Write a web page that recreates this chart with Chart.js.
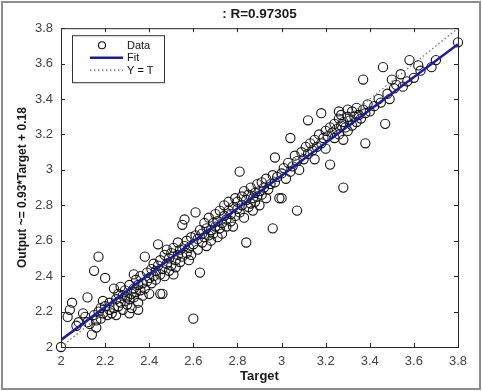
<!DOCTYPE html>
<html>
<head>
<meta charset="utf-8">
<script src="https://cdn.jsdelivr.net/npm/chart.js@4.4.1/dist/chart.umd.min.js"></script>
<style>
  html, body { margin: 0; padding: 0; background: #fff; }
</style>
</head>
<body>
<canvas id="chart_regression" width="482" height="391"></canvas>
<script>
// values (Target vs Output)
const targetValues = [
  2.00, 2.03, 2.04, 2.05, 2.07, 2.10, 2.11, 2.12, 2.14, 2.15,
  2.17, 2.20, 2.12, 2.13, 2.15, 2.16, 2.17, 2.18, 2.18, 2.19,
  2.20, 2.21, 2.16, 2.19, 2.08, 2.22, 2.22, 2.23, 2.24, 2.24,
  2.25, 2.25, 2.26, 2.26, 2.27, 2.28, 2.28, 2.29, 2.29, 2.30,
  2.30, 2.31, 2.31, 2.32, 2.32, 2.33, 2.33, 2.34, 2.34, 2.35,
  2.35, 2.35, 2.36, 2.36, 2.37, 2.37, 2.38, 2.38, 2.39, 2.39,
  2.40, 2.40, 2.33, 2.27, 2.31, 2.41, 2.41, 2.42, 2.42, 2.43,
  2.43, 2.44, 2.44, 2.45, 2.45, 2.45, 2.46, 2.46, 2.47, 2.47,
  2.48, 2.48, 2.49, 2.49, 2.50, 2.50, 2.51, 2.51, 2.52, 2.52,
  2.53, 2.53, 2.54, 2.54, 2.55, 2.55, 2.56, 2.56, 2.57, 2.57,
  2.58, 2.58, 2.59, 2.59, 2.60, 2.60, 2.61, 2.61, 2.62, 2.62,
  2.63, 2.63, 2.64, 2.64, 2.65, 2.65, 2.66, 2.66, 2.67, 2.67,
  2.68, 2.68, 2.69, 2.69, 2.70, 2.70, 2.71, 2.71, 2.72, 2.72,
  2.73, 2.73, 2.74, 2.74, 2.75, 2.75, 2.76, 2.76, 2.77, 2.77,
  2.78, 2.78, 2.79, 2.79, 2.80, 2.80, 2.81, 2.81, 2.82, 2.82,
  2.83, 2.83, 2.84, 2.84, 2.85, 2.85, 2.86, 2.86, 2.87, 2.87,
  2.88, 2.88, 2.89, 2.89, 2.90, 2.90, 2.91, 2.91, 2.92, 2.93,
  2.93, 2.94, 2.95, 2.96, 2.96, 2.97, 2.97, 2.98, 2.99, 3.00,
  3.00, 3.01, 3.02, 3.03, 3.04, 3.04, 3.05, 3.06, 3.07, 3.07,
  3.08, 3.09, 3.10, 3.11, 3.12, 3.12, 3.13, 3.14, 3.15, 3.15,
  3.16, 3.17, 3.18, 3.18, 3.19, 3.20, 3.20, 3.21, 3.22, 3.22,
  3.23, 3.24, 3.24, 3.25, 3.26, 3.26, 3.27, 3.27, 3.28, 3.28,
  3.28, 3.29, 3.30, 3.30, 3.31, 3.32, 3.32, 3.33, 3.34, 3.34,
  3.35, 3.36, 3.37, 3.37, 3.38, 3.38, 3.39, 3.40, 3.30, 3.26,
  3.42, 3.44, 3.45, 3.46, 3.47, 3.48, 3.50, 3.51, 3.52, 3.54,
  3.55, 3.57, 3.58, 3.60, 3.62, 3.63, 3.68, 3.70, 3.80, 3.49
];
const outputValues = [
  2.00, 2.17, 2.21, 2.25, 2.12, 2.19, 2.17, 2.28, 2.07, 2.43,
  2.51, 2.39, 2.14, 2.13, 2.18, 2.15, 2.20, 2.16, 2.22, 2.19,
  2.23, 2.18, 2.11, 2.26, 2.14, 2.21, 2.25, 2.19, 2.33, 2.22,
  2.18, 2.27, 2.23, 2.30, 2.25, 2.21, 2.29, 2.26, 2.32, 2.24,
  2.28, 2.35, 2.27, 2.30, 2.22, 2.33, 2.28, 2.38, 2.31, 2.25,
  2.21, 2.35, 2.32, 2.40, 2.29, 2.36, 2.51, 2.33, 2.42, 2.37,
  2.30, 2.39, 2.41, 2.34, 2.19, 2.44, 2.36, 2.40, 2.47, 2.38,
  2.43, 2.58, 2.46, 2.30, 2.41, 2.49, 2.30, 2.44, 2.52, 2.40,
  2.47, 2.55, 2.43, 2.50, 2.46, 2.53, 2.41, 2.56, 2.49, 2.45,
  2.52, 2.59, 2.48, 2.55, 2.69, 2.51, 2.72, 2.57, 2.53, 2.60,
  2.49, 2.56, 2.62, 2.52, 2.16, 2.58, 2.76, 2.63, 2.55, 2.61,
  2.42, 2.66, 2.59, 2.64, 2.70, 2.62, 2.57, 2.67, 2.63, 2.73,
  2.66, 2.60, 2.70, 2.64, 2.68, 2.75, 2.62, 2.71, 2.67, 2.77,
  2.70, 2.64, 2.74, 2.80, 2.68, 2.72, 2.77, 2.82, 2.71, 2.75,
  2.79, 2.68, 2.84, 2.74, 2.78, 2.82, 2.99, 2.76, 2.85, 2.80,
  2.73, 2.88, 2.59, 2.83, 2.79, 2.86, 2.81, 2.90, 2.84, 2.77,
  2.87, 2.82, 2.92, 2.85, 2.80, 2.88, 2.86, 2.93, 2.90, 2.84,
  2.95, 2.89, 2.92, 2.67, 2.97, 3.07, 2.93, 2.96, 2.84, 2.84,
  2.98, 3.01, 2.95, 3.04, 3.18, 2.99, 3.02, 3.08, 2.77, 3.05,
  3.00, 3.10, 3.06, 3.13, 3.28, 3.09, 3.15, 3.11, 3.06, 3.17,
  3.13, 3.20, 3.32, 3.15, 3.18, 3.12, 3.22, 3.19, 3.03, 3.24,
  3.21, 3.26, 3.18, 3.23, 3.29, 3.20, 3.25, 3.31, 2.90, 3.17,
  3.27, 3.24, 3.30, 3.22, 3.28, 3.33, 3.25, 3.30, 3.27, 3.35,
  3.31, 3.29, 3.51, 3.34, 3.15, 3.32, 3.37, 3.33, 3.34, 3.33,
  3.36, 3.40, 3.38, 3.58, 3.26, 3.43, 3.51, 3.46, 3.48, 3.54,
  3.47, 3.50, 3.62, 3.52, 3.59, 3.56, 3.58, 3.62, 3.72, 3.40
];
// fitted line end points and the Y = T reference line
const fitTargets = [2, 3.8];
const fitOutputs = [2.04, 3.71];
const identityTargets = [2, 3.8];
const identityOutputs = [2, 3.8];
const tickValues = [2, 2.2, 2.4, 2.6, 2.8, 3, 3.2, 3.4, 3.6, 3.8];

const labelFont = "'Liberation Sans', Arial, sans-serif";

function toPoints(xs, ys) {
  return xs.map((x, i) => ({ x: x, y: ys[i] }));
}

// matlab style box: outer figure frame, axes box with inward ticks
const matlabFrame = {
  id: "matlabFrame",
  beforeDraw(chart) {
    const ctx = chart.ctx;
    ctx.save();
    ctx.fillStyle = "#ffffff";
    ctx.fillRect(0, 0, chart.width, chart.height);
    ctx.strokeStyle = "#8c8c8c";
    ctx.lineWidth = 2;
    ctx.strokeRect(2, 2, chart.width - 4, chart.height - 4);
    ctx.restore();
  },
  afterDatasetsDraw(chart) {
    const ctx = chart.ctx;
    const a = chart.chartArea;
    const xs = chart.scales.x;
    const ys = chart.scales.y;
    ctx.save();
    ctx.strokeStyle = "#262626";
    ctx.lineWidth = 1;
    ctx.beginPath();
    xs.ticks.forEach((t) => {
      const px = Math.round(xs.getPixelForValue(t.value)) + 0.5;
      ctx.moveTo(px, a.bottom);
      ctx.lineTo(px, a.bottom - 4);
      ctx.moveTo(px, a.top);
      ctx.lineTo(px, a.top + 4);
    });
    ys.ticks.forEach((t) => {
      const py = Math.round(ys.getPixelForValue(t.value)) + 0.5;
      ctx.moveTo(a.left, py);
      ctx.lineTo(a.left + 4, py);
      ctx.moveTo(a.right, py);
      ctx.lineTo(a.right - 4, py);
    });
    ctx.stroke();
    ctx.strokeRect(a.left + 0.5, a.top + 0.5, a.right - a.left, a.bottom - a.top);
    ctx.restore();
  },
};

// legend box in the upper left corner of the axes
const boxLegend = {
  id: "boxLegend",
  afterDraw(chart) {
    const ctx = chart.ctx;
    const a = chart.chartArea;
    const x0 = a.left + 11;
    const y0 = a.top + 7;
    const w = 92;
    const h = 47;
    ctx.save();
    ctx.fillStyle = "#ffffff";
    ctx.fillRect(x0, y0, w, h);
    ctx.strokeStyle = "#333333";
    ctx.lineWidth = 1;
    ctx.strokeRect(x0 + 0.5, y0 + 0.5, w, h);
    ctx.font = "11px " + labelFont;
    ctx.textBaseline = "middle";
    ctx.textAlign = "left";
    chart.data.datasets.forEach((ds, i) => {
      const y = y0 + 10 + i * 12.5;
      ctx.save();
      if (ds.showLine) {
        ctx.strokeStyle = ds.borderColor;
        ctx.lineWidth = ds.borderWidth;
        ctx.setLineDash(ds.borderDash || []);
        ctx.beginPath();
        ctx.moveTo(x0 + 18, y);
        ctx.lineTo(x0 + 51, y);
        ctx.stroke();
      } else {
        ctx.strokeStyle = ds.borderColor;
        ctx.lineWidth = ds.borderWidth;
        ctx.beginPath();
        ctx.arc(x0 + 30, y, 3.5, 0, Math.PI * 2);
        ctx.stroke();
      }
      ctx.restore();
      ctx.fillStyle = "#111111";
      ctx.fillText(ds.label, x0 + 55, y + 0.5);
    });
    ctx.restore();
  },
};

function drawRegressionChart() {
  const ctx = document.getElementById("chart_regression").getContext("2d");

  const setTicks = (scale) => {
    scale.ticks = tickValues.map((v) => ({ value: v }));
  };

  return new Chart(ctx, {
    type: "scatter",
    data: {
      datasets: [
        {
          label: "Data",
          data: toPoints(targetValues, outputValues),
          showLine: false,
          pointRadius: 4.6,
          pointStyle: "circle",
          backgroundColor: "rgba(0,0,0,0)",
          borderColor: "#141414",
          borderWidth: 1.1,
          clip: false,
          order: 3,
        },
        {
          type: "line",
          label: "Fit",
          data: toPoints(fitTargets, fitOutputs),
          showLine: true,
          pointRadius: 0,
          borderColor: "#1c1c9c",
          borderWidth: 2.5,
          fill: false,
          order: 1,
        },
        {
          type: "line",
          label: "Y = T",
          data: toPoints(identityTargets, identityOutputs),
          showLine: true,
          pointRadius: 0,
          borderColor: "#6a7390",
          borderWidth: 1.2,
          borderDash: [1.5, 2.5],
          fill: false,
          order: 2,
        },
      ],
    },
    options: {
      responsive: false,
      animation: false,
      layout: {
        padding: { top: 0, right: 24, bottom: 0, left: 0 },
      },
      plugins: {
        legend: { display: false },
        tooltip: { enabled: false },
        title: {
          display: true,
          text: ": R=0.97305",
          fullSize: false,
          color: "#1a1a1a",
          font: { family: labelFont, size: 13.5, weight: "bold" },
          padding: { top: 6, bottom: 6 },
        },
      },
      scales: {
        x: {
          type: "linear",
          min: 2,
          max: 3.8,
          afterBuildTicks: setTicks,
          afterFit: (scale) => {
            scale.height = 44;
          },
          grid: { display: false, drawTicks: false },
          border: { display: false },
          ticks: {
            padding: 7,
            color: "#444444",
            font: { family: labelFont, size: 13 },
            callback: (v) => String(Number(v.toFixed(1))),
          },
          title: {
            display: true,
            text: "Target",
            color: "#1a1a1a",
            font: { family: labelFont, size: 13, weight: "bold" },
            padding: { top: 0, bottom: 7 },
          },
        },
        y: {
          type: "linear",
          min: 2,
          max: 3.8,
          afterBuildTicks: setTicks,
          afterFit: (scale) => {
            scale.width = 61;
          },
          grid: { display: false, drawTicks: false },
          border: { display: false },
          ticks: {
            padding: 8,
            color: "#444444",
            font: { family: labelFont, size: 13 },
            callback: (v) => String(Number(v.toFixed(1))),
          },
          title: {
            display: true,
            text: "Output ~= 0.93*Target + 0.18",
            color: "#1a1a1a",
            font: { family: labelFont, size: 12, weight: "bold" },
            padding: { top: 15, bottom: 0 },
          },
        },
      },
    },
    plugins: [matlabFrame, boxLegend],
  });
}

drawRegressionChart();
</script>
</body>
</html>
